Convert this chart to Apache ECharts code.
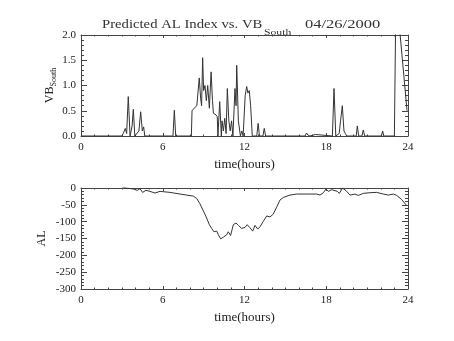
<!DOCTYPE html>
<html><head><meta charset="utf-8">
<script src="https://cdn.jsdelivr.net/npm/echarts@6/dist/echarts.min.js"></script>
<style>html,body{margin:0;padding:0;background:#fff}#c{width:454px;height:341px}</style>
</head><body><div id="c"></div>
<script>
// time (hours), VB_South
const vbTime = [0,3.0,3.1,3.25,3.35,3.47,3.6,3.75,3.84,3.95,4.25,4.38,4.5,4.6,4.68,6.75,6.85,6.95,
 8.1,8.15,8.3,8.4,8.5,8.6,8.68,8.78,8.85,8.93,9.0,9.1,9.2,9.3,9.42,9.55,9.65,9.72,9.9,10.0,10.05,10.18,10.3,10.35,10.45,10.55,10.65,10.74,10.85,10.95,11.05,11.15,11.3,11.38,11.43,11.55,11.7,11.8,11.9,12.05,12.16,12.25,12.35,12.45,12.57,
 12.9,13.0,13.1,13.35,13.45,13.55,16.45,16.55,16.65,16.7,16.8,17.2,17.3,18.45,18.57,18.7,18.95,19.05,19.18,19.3,19.4,19.5,20.2,20.28,20.38,20.62,20.72,20.82,22.05,22.14,22.22,23.0,23.12,23.93];
const vbValue = [0,0,0.05,0.15,0.05,0.78,0,0.2,0.53,0,0.1,0.48,0.1,0.18,0,0,0.51,0,
 0,0.5,0.55,0.52,0.6,0.62,1.15,0.75,0.6,1.55,0.9,1.0,0.7,1.0,0.55,1.27,0.7,0.45,0.42,0.38,0,0.68,0,0.3,0.1,0.35,0.05,0.94,0.3,0.1,0.3,0,0.94,0.6,1.4,0.3,0,0.1,0,0.8,0.98,0.85,0.9,0.6,0,
 0,0.25,0,0,0.15,0,0,0.06,0.02,0.05,0,0.03,0,0,0.94,0,0.05,0.3,0.6,0.1,0.05,0,0,0.2,0,0,0.12,0,0,0.1,0,0,2.9,0.5];
// time (hours), AL
const alTime = [2.99,3.35,3.84,4.13,4.33,4.52,4.77,5.06,5.43,5.8,6.53,7.27,7.76,8.24,8.49,8.73,8.98,9.22,9.42,9.59,9.76,9.96,10.08,10.25,10.45,10.69,10.81,10.98,11.18,11.38,11.55,11.79,12.04,12.2,12.4,12.6,12.77,12.97,13.14,13.38,13.63,13.87,14.1,14.36,14.6,14.85,15.34,15.83,16.56,17.3,17.54,17.79,17.98,18.15,18.4,18.81,18.96,19.2,19.5,19.74,20.1,20.35,20.72,21.2,21.7,22.19,22.55,22.93,23.17,23.53,23.9];
const alValue = [3,0,-3,-7,-2,-13,-7,-10,-15,-10,-13,-18,-21,-24,-31,-47,-68,-89,-109,-120,-130,-128,-139,-151,-146,-139,-130,-141,-109,-104,-111,-120,-117,-109,-118,-128,-111,-122,-115,-99,-83,-86,-78,-57,-36,-28,-21,-18,-18,-18,-21,-14,-3,-10,-5,-10,-16,0,-10,-21,-18,-22,-16,-14,-13,-18,-21,-18,-22,-34,-52];
const titleMain = 'Predicted AL Index vs. VB';
const titleSub = 'South';
const titleDate = '04/26/2000';
const yName1 = 'VB', yName1Sub = 'South', yName2 = 'AL', xName = 'time(hours)';

const ink = '#444';
const font = 'Liberation Serif';
function xAx(grid, pos, labels, name){
  return {type:'value', gridIndex:grid, position:pos, min:0, max:24, interval:6,
    axisLine:{show:true, onZero:false, lineStyle:{color:ink, width:1}},
    axisTick:{show:true, inside:true, length:3, lineStyle:{color:ink}},
    minorTick:{show:true, splitNumber:6, length:1.5, lineStyle:{color:ink}},
    splitLine:{show:false},
    axisLabel:{show:labels, margin:6, color:'#222', fontFamily:font, fontSize:11},
    name: name||'', nameLocation:'middle', nameGap:22,
    nameTextStyle:{color:'#222', fontFamily:font, fontSize:13}};
}
function yAx(grid, pos, labels, min, max, iv, fmt){
  return {type:'value', gridIndex:grid, position:pos, min:min, max:max, interval:iv,
    axisLine:{show:true, onZero:false, lineStyle:{color:ink, width:1}},
    axisTick:{show:true, inside:true, length:6, lineStyle:{color:ink}},
    minorTick:{show:true, splitNumber:5, length:3, lineStyle:{color:ink}},
    splitLine:{show:false},
    axisLabel:{show:labels, margin:5, color:'#222', fontFamily:font, fontSize:11, formatter:fmt}};
}
const rich = {a:{fontFamily:font, fontSize:12, fill:'#222', verticalAlign:'top', lineHeight:14},
              b:{fontFamily:font, fontSize:8, fill:'#222', verticalAlign:'bottom', lineHeight:14, padding:[7,0,0,0]}};
const chart = echarts.init(document.getElementById('c'), null, {renderer:'canvas'});
chart.setOption({
  animation:false,
  backgroundColor:'#fff',
  grid:[{left:81, width:327, top:35, height:101},{left:81, width:327, top:188, height:101}],
  xAxis:[xAx(0,'bottom',true,xName), xAx(0,'top',false), xAx(1,'bottom',true,xName), xAx(1,'top',false)],
  yAxis:[yAx(0,'left',true,0,2,0.5,v=>v.toFixed(1)), yAx(0,'right',false,0,2,0.5),
         yAx(1,'left',true,-300,0,50,v=>String(v)), yAx(1,'right',false,-300,0,50)],
  graphic:[
    {type:'text', x:102, y:25, scaleX:1.13, style:{text:titleMain, font:'13px "Liberation Serif"', fill:'#333', align:'left', verticalAlign:'middle'}},
    {type:'text', x:264, y:32.5, scaleX:1.3, style:{text:titleSub, font:'9px "Liberation Serif"', fill:'#333', align:'left', verticalAlign:'middle'}},
    {type:'text', x:305, y:25, scaleX:1.27, style:{text:titleDate, font:'13px "Liberation Serif"', fill:'#333', align:'left', verticalAlign:'middle'}},
    {type:'text', x:51, y:85.5, rotation:Math.PI/2, style:{text:'{a|'+yName1+'}{b|'+yName1Sub+'}', rich:rich, align:'center', verticalAlign:'middle'}},
    {type:'text', x:43, y:238.5, rotation:Math.PI/2, style:{text:'{a|'+yName2+'}', rich:rich, align:'center', verticalAlign:'middle'}}
  ],
  series:[
    {type:'line', xAxisIndex:0, yAxisIndex:0, showSymbol:false, clip:true,
     lineStyle:{color:'#333', width:1}, data: vbTime.map((t,i)=>[t, vbValue[i]])},
    {type:'line', xAxisIndex:2, yAxisIndex:2, showSymbol:false, clip:true,
     lineStyle:{color:'#333', width:1}, data: alTime.map((t,i)=>[t, alValue[i]])}
  ]
});
</script></body></html>
